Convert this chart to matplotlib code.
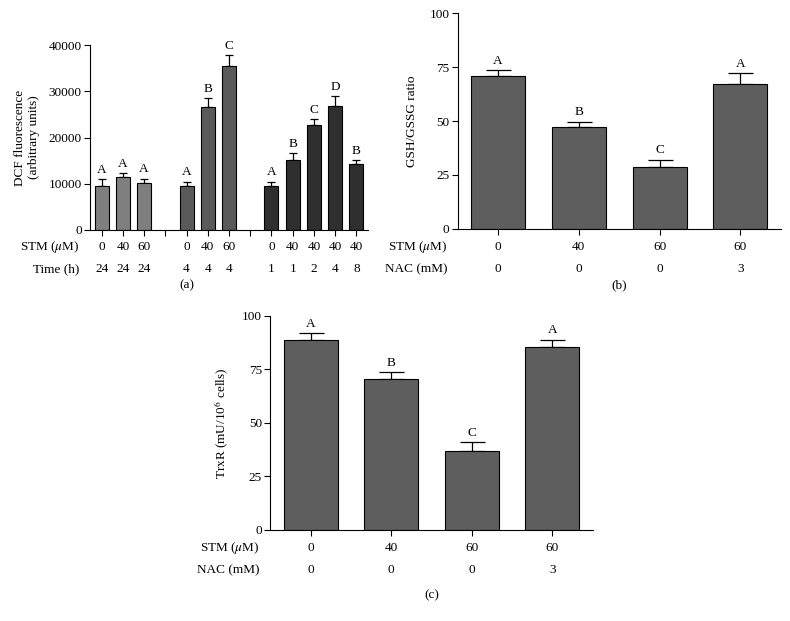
import matplotlib
matplotlib.use("Agg")
import matplotlib.pyplot as plt
import numpy as np

plt.rcParams["font.family"] = ["Liberation Serif", "DejaVu Serif"]
plt.rcParams["mathtext.fontset"] = "stix"
plt.rcParams["font.size"] = 9.5

# (a) DCF fluorescence
a_pos = [0, 1, 2, 4, 5, 6, 8, 9, 10, 11, 12]
a_vals = [9600, 11500, 10250, 9600, 26500, 35500, 9600, 15200, 22600, 26900, 14300]
a_err = [1400, 750, 850, 850, 1950, 2300, 850, 1450, 1400, 2000, 750]
a_letters = ["A", "A", "A", "A", "B", "C", "A", "B", "C", "D", "B"]
a_stm = ["0", "40", "60", "0", "40", "60", "0", "40", "40", "40", "40"]
a_time = ["24", "24", "24", "4", "4", "4", "1", "1", "2", "4", "8"]
a_group = [0, 0, 0, 1, 1, 1, 2, 2, 2, 2, 2]
a_gaps = [3, 7]
group_colors = ["#7f7f7f", "#5a5a5a", "#2f2f2f"]

# (b) GSH/GSSG ratio
b_vals = [70.7, 47.4, 28.8, 67.0]
b_err = [2.8, 2.3, 3.2, 5.1]
b_letters = ["A", "B", "C", "A"]

# (c) TrxR activity
c_vals = [88.8, 70.4, 36.9, 85.4]
c_err = [3.0, 3.2, 4.0, 3.4]
c_letters = ["A", "B", "C", "A"]

stm_bc = ["0", "40", "60", "60"]
nac_bc = ["0", "0", "0", "3"]

fig = plt.figure(figsize=(7.9, 6.21), dpi=100)
W, H = 790, 621


def add_ax(left, right, bottom, top):
    return fig.add_axes([left / W, 1 - bottom / H, (right - left) / W, (bottom - top) / H])


def style(ax):
    for s in ("top", "right"):
        ax.spines[s].set_visible(False)
    ax.tick_params(direction="out", length=4, width=0.8, pad=2)


def rows(ax, xs, labels, names, offs):
    for off, name, labs in zip(offs, names, labels):
        for x, t in zip(xs, labs):
            ax.annotate(t, (x, 0), xycoords=("data", "axes fraction"), xytext=(0, -off),
                        textcoords="offset points", ha="center", va="center")
        ax.annotate(name, (0, 0), xycoords="axes fraction", xytext=(-7.5, -off),
                    textcoords="offset points", ha="right", va="center")


def letters(ax, xs, tops, labs):
    for x, t, l in zip(xs, tops, labs):
        ax.annotate(l, (x, t), xytext=(0, 2.5), textcoords="offset points",
                    ha="center", va="bottom", annotation_clip=False)


# ---- panel (a)
ax = add_ax(90, 368, 230, 45)
style(ax)
cols = [group_colors[g] for g in a_group]
ax.bar(a_pos, a_vals, width=0.66, color=cols, edgecolor="black", linewidth=0.8, zorder=2)
ax.errorbar(a_pos, a_vals, yerr=[np.zeros(len(a_err)), a_err], fmt="none",
            ecolor="black", elinewidth=0.9, capsize=3, capthick=0.9, zorder=1)
letters(ax, a_pos, np.array(a_vals) + np.array(a_err), a_letters)
ax.set_xlim(-0.55, 12.55)
ax.set_ylim(0, 40000)
ax.set_yticks([0, 10000, 20000, 30000, 40000])
ax.set_xticks(a_pos + a_gaps)
ax.set_xticklabels([])
ax.set_ylabel("DCF fluorescence\n(arbitrary units)", labelpad=6)
rows(ax, a_pos, [a_stm, a_time], ["STM ($\\mu$M)", "Time (h)"], [12.2, 28])
ax.annotate("(a)", (0.5, 0), xycoords="axes fraction", xytext=(-30, -40),
            textcoords="offset points", ha="center", va="center")

# ---- panels (b) and (c)
bc_x = np.arange(4)
for box, vals, err, labs, ylabel, cap in [
    ((457.7, 780.7, 228.7, 13.3), b_vals, b_err, b_letters, "GSH/GSSG ratio", "(b)"),
    ((270.3, 592.7, 530, 315.7), c_vals, c_err, c_letters, "TrxR (mU/10$^6$ cells)", "(c)"),
]:
    ax = add_ax(*box)
    style(ax)
    ax.bar(bc_x, vals, width=0.67, color="#5e5e5e", edgecolor="black", linewidth=0.8, zorder=2)
    ax.errorbar(bc_x, vals, yerr=[np.zeros(4), err], fmt="none", ecolor="black",
                elinewidth=0.9, capsize=9, capthick=0.9, zorder=1)
    letters(ax, bc_x, np.array(vals) + np.array(err), labs)
    ax.set_xlim(-0.5, 3.5)
    ax.set_ylim(0, 100)
    ax.set_yticks([0, 25, 50, 75, 100])
    ax.set_xticks(bc_x)
    ax.set_xticklabels([])
    ax.set_ylabel(ylabel, labelpad=8)
    rows(ax, bc_x, [stm_bc, nac_bc], ["STM ($\\mu$M)", "NAC (mM)"], [13, 29])
    ax.annotate(cap, (0.5, 0), xycoords="axes fraction",
                xytext=(0, -41 if cap == "(b)" else -47),
                textcoords="offset points", ha="center", va="center")

fig.savefig("out.png", dpi=100)
